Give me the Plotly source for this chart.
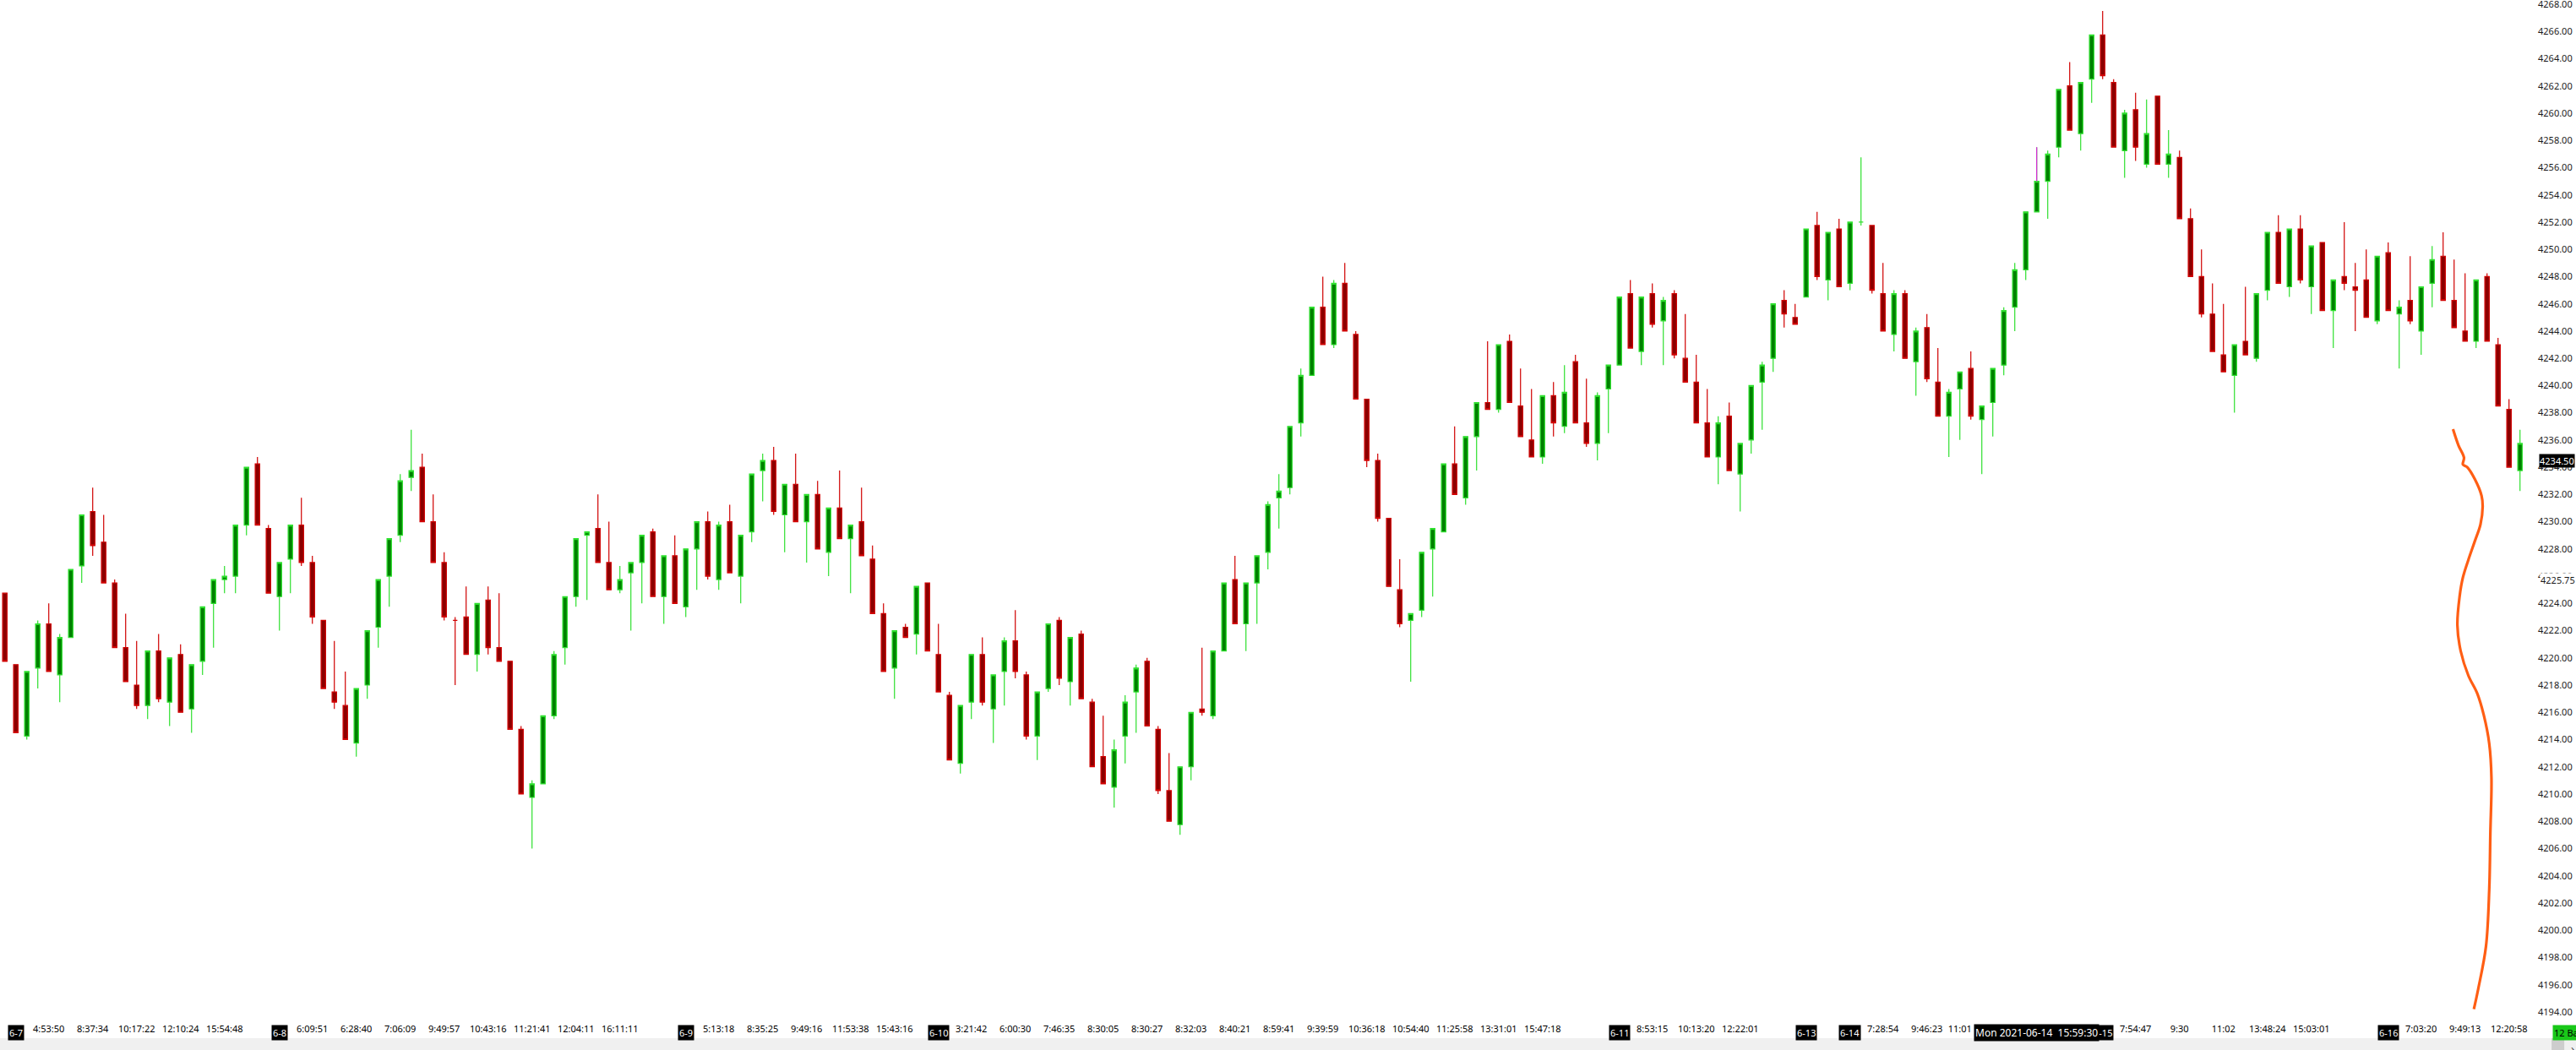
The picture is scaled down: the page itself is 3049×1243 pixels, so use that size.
import plotly.graph_objects as go

# bars (index = bar number on a tick-style axis)
opens = [4224.75, 4219.5, 4214.25, 4219.25, 4222.5, 4218.75, 4221.5, 4226.75, 4230.75, 4228.5,
         4225.5, 4220.75, 4218.0, 4216.5, 4220.5, 4216.75, 4220.25, 4216.25, 4219.75, 4224.0,
         4225.75, 4226.0, 4229.75, 4234.25, 4229.5, 4224.5, 4227.25, 4229.75, 4227.0, 4222.75,
         4217.5, 4216.5, 4213.75, 4218.0, 4222.25, 4226.0, 4229.0, 4233.25, 4234.0, 4230.0,
         4227.0, 4222.75, 4223.0, 4220.25, 4224.25, 4220.75, 4219.75, 4214.75, 4209.75, 4210.75,
         4215.75, 4220.75, 4224.5, 4229.0, 4229.5, 4227.0, 4225.0, 4226.25, 4227.0, 4229.25,
         4224.5, 4227.5, 4223.75, 4228.0, 4230.0, 4225.75, 4230.0, 4226.0, 4229.25, 4233.75,
         4234.5, 4230.5, 4232.75, 4230.0, 4232.0, 4227.75, 4231.0, 4228.75, 4230.0, 4227.25,
         4223.25, 4219.25, 4222.25, 4221.75, 4225.5, 4220.25, 4217.25, 4212.25, 4216.75, 4220.25,
         4216.25, 4219.0, 4221.25, 4218.75, 4214.25, 4217.75, 4222.75, 4218.25, 4221.75, 4216.75,
         4212.75, 4210.5, 4214.25, 4217.5, 4219.75, 4214.75, 4210.25, 4207.75, 4212.0, 4216.25,
         4215.75, 4220.5, 4225.75, 4222.5, 4225.5, 4227.75, 4231.75, 4232.5, 4237.25, 4240.75,
         4245.75, 4243.0, 4247.5, 4243.75, 4239.0, 4234.5, 4230.25, 4225.0, 4222.75, 4223.5,
         4228.0, 4229.25, 4234.25, 4231.75, 4236.25, 4238.75, 4238.25, 4243.25, 4238.5, 4236.0,
         4234.75, 4239.25, 4237.0, 4241.75, 4237.25, 4235.75, 4239.75, 4241.5, 4246.75, 4242.5,
         4246.75, 4244.75, 4246.75, 4242.0, 4240.25, 4237.25, 4234.75, 4237.75, 4233.5, 4236.0,
         4240.25, 4242.0, 4246.25, 4245.0, 4246.5, 4251.75, 4247.75, 4251.5, 4247.5, 4252.0,
         4251.75, 4246.75, 4243.75, 4246.75, 4241.75, 4244.25, 4240.25, 4237.75, 4239.75, 4241.25,
         4237.5, 4238.75, 4241.5, 4245.75, 4248.5, 4252.75, 4255.0, 4257.5, 4262.0, 4258.5,
         4262.5, 4265.75, 4262.25, 4257.25, 4260.25, 4256.25, 4261.25, 4256.25, 4256.75, 4252.25,
         4248.0, 4245.25, 4242.25, 4240.75, 4243.25, 4242.0, 4247.0, 4251.25, 4247.25, 4251.5,
         4247.25, 4250.5, 4245.5, 4248.0, 4247.25, 4247.75, 4244.75, 4249.75, 4245.25, 4246.25,
         4244.0, 4247.5, 4249.5, 4246.25, 4244.0, 4243.25, 4248.0, 4243.0, 4238.25, 4233.75]
highs = [4224.75, 4219.5, 4219.0, 4222.75, 4224.0, 4221.75, 4226.5, 4230.5, 4232.5, 4230.5,
         4225.75, 4223.25, 4221.25, 4220.5, 4221.75, 4220.0, 4221.0, 4219.5, 4223.75, 4225.75,
         4226.75, 4229.75, 4234.0, 4234.75, 4229.75, 4227.0, 4229.75, 4231.75, 4227.5, 4222.75,
         4221.25, 4219.0, 4217.75, 4222.0, 4225.75, 4228.75, 4233.5, 4236.75, 4235.0, 4232.0,
         4227.75, 4223.0, 4225.25, 4224.0, 4225.25, 4224.75, 4219.75, 4215.0, 4211.0, 4215.75,
         4220.5, 4224.5, 4228.75, 4229.25, 4232.0, 4230.0, 4226.75, 4227.0, 4229.0, 4229.5,
         4227.5, 4229.0, 4228.0, 4230.0, 4230.75, 4230.0, 4231.25, 4229.0, 4233.5, 4235.0,
         4235.5, 4232.75, 4235.0, 4232.0, 4233.0, 4231.0, 4233.75, 4229.75, 4232.5, 4228.25,
         4224.0, 4222.0, 4222.5, 4225.25, 4225.5, 4222.5, 4217.5, 4216.5, 4220.25, 4221.5,
         4218.75, 4221.5, 4223.5, 4219.0, 4217.5, 4222.5, 4223.0, 4221.5, 4222.0, 4217.0,
         4215.75, 4214.0, 4217.25, 4219.5, 4220.0, 4215.0, 4213.0, 4212.0, 4216.0, 4220.75,
         4220.5, 4225.5, 4227.5, 4225.5, 4227.5, 4231.5, 4233.5, 4237.0, 4241.25, 4245.75,
         4248.0, 4247.75, 4249.0, 4244.0, 4239.0, 4235.0, 4230.25, 4227.25, 4223.25, 4227.75,
         4229.5, 4234.25, 4237.0, 4236.25, 4238.75, 4243.25, 4243.0, 4243.75, 4241.25, 4239.75,
         4239.25, 4240.25, 4241.5, 4242.25, 4240.5, 4239.5, 4241.5, 4246.5, 4247.75, 4246.5,
         4247.5, 4246.5, 4247.0, 4245.25, 4242.25, 4239.75, 4237.75, 4238.75, 4235.75, 4240.0,
         4241.75, 4246.0, 4247.0, 4246.0, 4251.5, 4252.75, 4251.25, 4252.25, 4252.0, 4256.75,
         4251.75, 4249.0, 4247.0, 4247.0, 4244.25, 4245.25, 4242.75, 4239.75, 4241.0, 4242.5,
         4238.5, 4241.25, 4245.75, 4249.0, 4252.75, 4257.5, 4257.25, 4261.75, 4263.75, 4262.25,
         4265.75, 4267.5, 4262.5, 4260.25, 4261.5, 4261.0, 4261.25, 4258.75, 4257.25, 4253.0,
         4250.0, 4247.5, 4246.0, 4243.0, 4247.25, 4246.75, 4251.25, 4252.5, 4251.5, 4252.5,
         4250.25, 4250.5, 4247.75, 4252.0, 4249.0, 4250.0, 4249.5, 4250.5, 4246.25, 4249.5,
         4247.25, 4250.25, 4251.25, 4249.25, 4248.25, 4247.75, 4248.25, 4243.5, 4239.0, 4236.75]
lows = [4219.75, 4214.5, 4214.0, 4217.75, 4219.0, 4216.75, 4221.5, 4225.5, 4227.5, 4225.5,
        4220.75, 4218.25, 4216.25, 4215.5, 4216.75, 4215.0, 4216.0, 4214.5, 4218.75, 4220.75,
        4224.75, 4224.75, 4229.0, 4229.75, 4224.75, 4222.0, 4224.75, 4226.75, 4222.5, 4217.75,
        4216.25, 4214.0, 4212.75, 4217.0, 4220.75, 4223.75, 4228.5, 4232.25, 4230.0, 4227.0,
        4222.75, 4218.0, 4220.25, 4219.0, 4220.25, 4219.75, 4214.75, 4210.0, 4206.0, 4210.75,
        4215.5, 4219.5, 4223.75, 4224.25, 4227.0, 4225.0, 4224.75, 4222.0, 4224.0, 4224.5,
        4222.5, 4224.0, 4223.0, 4225.0, 4225.75, 4225.0, 4226.25, 4224.0, 4228.5, 4231.5,
        4230.5, 4227.75, 4230.0, 4227.0, 4228.0, 4226.0, 4228.75, 4224.75, 4227.5, 4223.25,
        4219.0, 4217.0, 4221.5, 4220.25, 4220.5, 4217.5, 4212.5, 4211.5, 4215.5, 4216.5,
        4213.75, 4216.5, 4218.5, 4214.0, 4212.5, 4217.5, 4218.0, 4216.5, 4217.0, 4212.0,
        4210.75, 4209.0, 4212.25, 4214.5, 4215.0, 4210.0, 4208.0, 4207.0, 4211.0, 4215.75,
        4215.5, 4220.5, 4222.5, 4220.5, 4222.5, 4226.5, 4229.5, 4232.0, 4236.25, 4240.75,
        4243.0, 4242.75, 4244.0, 4239.0, 4234.0, 4230.0, 4225.25, 4222.25, 4218.25, 4223.0,
        4224.5, 4229.25, 4232.0, 4231.25, 4233.75, 4238.25, 4238.0, 4238.75, 4236.25, 4234.75,
        4234.25, 4236.25, 4236.5, 4237.25, 4235.5, 4234.5, 4236.5, 4241.5, 4242.75, 4241.5,
        4244.25, 4241.5, 4242.0, 4240.25, 4237.25, 4234.75, 4232.75, 4233.75, 4230.75, 4235.0,
        4236.75, 4241.0, 4244.25, 4244.5, 4246.5, 4247.75, 4246.25, 4247.25, 4247.0, 4251.75,
        4246.75, 4244.0, 4242.5, 4242.0, 4239.25, 4240.25, 4237.75, 4234.75, 4236.0, 4237.5,
        4233.5, 4236.25, 4240.75, 4244.0, 4247.75, 4252.75, 4252.25, 4256.75, 4258.75, 4257.25,
        4260.75, 4262.5, 4257.5, 4255.25, 4256.5, 4256.0, 4256.25, 4255.25, 4252.25, 4248.0,
        4245.0, 4242.5, 4241.0, 4238.0, 4242.25, 4241.75, 4246.25, 4247.5, 4246.5, 4247.5,
        4245.25, 4245.5, 4242.75, 4247.0, 4244.0, 4245.0, 4244.5, 4245.5, 4241.25, 4244.5,
        4242.25, 4245.75, 4246.25, 4244.25, 4243.25, 4242.75, 4243.25, 4238.5, 4234.0, 4232.25]
closes = [4219.75, 4214.5, 4219.0, 4222.5, 4219.0, 4221.5, 4226.5, 4230.5, 4228.25, 4225.5,
          4220.75, 4218.25, 4216.5, 4220.5, 4217.0, 4220.0, 4216.0, 4219.5, 4223.75, 4225.75,
          4226.0, 4229.75, 4234.0, 4229.75, 4224.75, 4227.0, 4229.75, 4227.0, 4223.0, 4217.75,
          4216.75, 4214.0, 4217.75, 4222.0, 4225.75, 4228.75, 4233.0, 4233.75, 4230.0, 4227.0,
          4223.0, 4222.75, 4220.25, 4224.0, 4220.75, 4219.75, 4214.75, 4210.0, 4210.75, 4215.75,
          4220.25, 4224.5, 4228.75, 4229.25, 4227.0, 4225.0, 4225.75, 4227.0, 4229.0, 4224.5,
          4227.5, 4224.0, 4228.0, 4230.0, 4226.0, 4229.75, 4226.25, 4229.0, 4233.5, 4234.5,
          4230.75, 4232.75, 4230.0, 4232.0, 4228.0, 4231.0, 4228.75, 4229.75, 4227.5, 4223.25,
          4219.0, 4222.0, 4221.5, 4225.25, 4220.5, 4217.5, 4212.5, 4216.5, 4220.25, 4216.75,
          4218.75, 4221.25, 4219.0, 4214.25, 4217.5, 4222.5, 4218.5, 4221.5, 4217.0, 4212.0,
          4210.75, 4213.25, 4216.75, 4219.25, 4215.0, 4210.25, 4208.0, 4212.0, 4216.0, 4216.0,
          4220.5, 4225.5, 4222.5, 4225.5, 4227.5, 4231.25, 4232.25, 4237.0, 4240.75, 4245.75,
          4243.0, 4247.5, 4244.0, 4239.0, 4234.5, 4230.25, 4225.25, 4222.5, 4223.25, 4227.75,
          4229.5, 4234.25, 4232.0, 4236.25, 4238.75, 4238.25, 4243.0, 4238.75, 4236.25, 4234.75,
          4239.25, 4237.25, 4239.5, 4237.25, 4235.75, 4239.25, 4241.5, 4246.5, 4242.75, 4246.5,
          4244.5, 4246.25, 4242.25, 4240.25, 4237.25, 4234.75, 4237.25, 4233.75, 4235.75, 4240.0,
          4241.5, 4246.0, 4245.25, 4244.5, 4251.5, 4248.0, 4251.25, 4247.25, 4252.0, 4252.0,
          4247.0, 4244.0, 4246.75, 4242.0, 4244.0, 4240.5, 4237.75, 4239.5, 4241.0, 4237.75,
          4238.5, 4241.25, 4245.5, 4248.5, 4252.75, 4255.0, 4257.0, 4261.75, 4258.75, 4262.25,
          4265.75, 4262.75, 4257.5, 4260.0, 4257.5, 4258.5, 4256.25, 4257.0, 4252.25, 4248.0,
          4245.25, 4242.5, 4241.0, 4243.0, 4242.25, 4246.75, 4251.25, 4247.5, 4251.5, 4247.75,
          4250.25, 4245.5, 4247.75, 4247.5, 4247.0, 4245.0, 4249.5, 4245.5, 4245.75, 4244.75,
          4247.25, 4249.25, 4246.25, 4244.25, 4243.25, 4247.75, 4243.25, 4238.5, 4234.0, 4235.75]
bars = list(range(len(closes)))

# x-axis labels (bar index -> label)
time_bars = [4, 8, 12, 16, 20, 28, 32, 36, 40, 44, 48, 52, 56, 65, 69, 73, 77, 81,
             88, 92, 96, 100, 104, 108, 112, 116, 120, 124, 128, 132, 136, 140,
             150, 154, 158, 171, 175, 178, 194, 198, 202, 206, 210, 220, 224, 228]
time_labels = ["4:53:50", "8:37:34", "10:17:22", "12:10:24", "15:54:48", "6:09:51", "6:28:40",
               "7:06:09", "9:49:57", "10:43:16", "11:21:41", "12:04:11", "16:11:11", "5:13:18",
               "8:35:25", "9:49:16", "11:53:38", "15:43:16", "3:21:42", "6:00:30", "7:46:35",
               "8:30:05", "8:30:27", "8:32:03", "8:40:21", "8:59:41", "9:39:59", "10:36:18",
               "10:54:40", "11:25:58", "13:31:01", "15:47:18", "8:53:15", "10:13:20", "12:22:01",
               "7:28:54", "9:46:23", "11:01", "7:54:47", "9:30", "11:02", "13:48:24", "15:03:01",
               "7:03:20", "9:49:13", "12:20:58"]
date_bars = [1, 25, 62, 85, 147, 164, 168, 191, 217]
date_labels = ["6-7", "6-8", "6-9", "6-10", "6-11", "6-13", "6-14", "6-15", "6-16"]

price_ticks = [4194 + 2 * i for i in range(38)]

# crosshair and marker
cross_bar = 185
cross_price = 4234.50
cross_time = "Mon 2021-06-14  15:59:30"
marker_price = 4225.75

# hand-drawn orange stroke (bar index, price)
stroke_x = [222.9, 223.4, 223.9, 223.8, 224.2, 224.9, 225.5, 225.6, 225.4, 224.9, 224.3, 223.8,
            223.5, 223.3, 223.6, 224.3, 225.1, 225.7, 226.2, 226.4, 226.3, 226.2, 225.9, 225.2, 224.8]
stroke_y = [4236.8, 4235.6, 4234.7, 4234.2, 4234.0, 4233.1, 4231.9, 4231.1, 4229.8, 4228.6, 4227.2,
            4225.9, 4224.5, 4222.4, 4220.5, 4218.7, 4217.4, 4215.8, 4213.7, 4211.2, 4207.1, 4203.0,
            4198.8, 4195.7, 4194.2]

FONT = "Noto Sans, Segoe UI, Arial, sans-serif"

fig = go.Figure()
fig.add_trace(go.Candlestick(
    x=bars, open=opens, high=highs, low=lows, close=closes,
    increasing=dict(fillcolor="#008000", line=dict(color="#2fe02f", width=1.2)),
    decreasing=dict(fillcolor="#8b0000", line=dict(color="#d00000", width=1.2)),
    whiskerwidth=0, showlegend=False, hoverinfo="skip",
))
# highlighted wick of the bar under the crosshair
fig.add_trace(go.Scatter(
    x=[cross_bar, cross_bar], y=[closes[cross_bar], highs[cross_bar]],
    mode="lines", line=dict(color="#ff00ff", width=1), showlegend=False, hoverinfo="skip",
))
fig.add_trace(go.Scatter(
    x=stroke_x, y=stroke_y, mode="lines",
    line=dict(color="#ff5e14", width=3.2, shape="spline", smoothing=1.0),
    showlegend=False, hoverinfo="skip",
))

# crosshair
fig.add_hline(y=cross_price, line=dict(color="#000000", width=1))
fig.add_vline(x=cross_bar, line=dict(color="#000000", width=1))

annotations = []
for b, t in zip(date_bars, date_labels):
    annotations.append(dict(
        x=b, xref="x", y=0, yref="paper", yanchor="top", yshift=-3,
        text=t, showarrow=False, bgcolor="#000000", borderpad=1,
        font=dict(family=FONT, size=11, color="#ffffff"),
    ))
annotations.append(dict(
    x=cross_bar, xref="x", y=0, yref="paper", yanchor="top", yshift=-2,
    text=cross_time, showarrow=False, bgcolor="#000000", borderpad=1,
    font=dict(family=FONT, size=12, color="#ffffff"),
))
annotations.append(dict(
    x=1, xref="paper", xanchor="left", xshift=3, y=marker_price, yref="y",
    text="%.2f" % marker_price, showarrow=False, bgcolor="#ffffff", borderpad=0,
    font=dict(family=FONT, size=11, color="#1a1a1a"),
))
annotations.append(dict(
    x=1, xref="paper", xanchor="left", xshift=2, y=cross_price, yref="y",
    text="%.2f" % cross_price, showarrow=False, bgcolor="#000000", borderpad=0,
    font=dict(family=FONT, size=11, color="#ffffff"),
))
annotations.append(dict(
    x=1, xref="paper", xanchor="left", xshift=18, y=0, yref="paper", yanchor="top", yshift=-3,
    text="12 Bars", showarrow=False, bgcolor="#19c819", borderpad=1,
    font=dict(family=FONT, size=11, color="#000000"),
))
annotations.append(dict(
    x=1, xref="paper", xanchor="left", xshift=38, y=0, yref="paper", yanchor="top", yshift=-20,
    text="›", showarrow=False, font=dict(family=FONT, size=13, color="#444444"),
))

# scrollbar strip at the bottom
shapes = [
    dict(type="rect", xref="paper", yref="paper", x0=-0.01, x1=1.02, y0=-0.0157, y1=-0.03,
         fillcolor="#f0f0f0", line=dict(width=0), layer="above"),
    dict(type="rect", xref="paper", yref="paper", x0=1.0057, x1=1.0107, y0=-0.0157, y1=-0.03,
         fillcolor="#cdcdcd", line=dict(width=0), layer="above"),
]

fig.update_layout(
    width=3049, height=1243,
    margin=dict(l=0, r=46, t=0, b=33),
    paper_bgcolor="#ffffff", plot_bgcolor="#ffffff",
    font=dict(family=FONT, size=11, color="#000000"),
    boxgap=0.42,
    annotations=annotations,
    shapes=shapes,
    xaxis=dict(
        range=[-0.44, 230.56], showgrid=False, zeroline=False, showline=False,
        tickmode="array", tickvals=time_bars, ticktext=time_labels, ticks="",
        rangeslider=dict(visible=False), automargin=False, ticklabeloverflow="allow",
        tickfont=dict(family=FONT, size=11, color="#000000"),
    ),
    yaxis=dict(
        side="right", range=[4193.25, 4268.31], showgrid=False, zeroline=False, showline=False,
        tickmode="array", tickvals=price_ticks, ticktext=["%.2f" % p for p in price_ticks],
        ticks="", automargin=False, ticklabeloverflow="allow",
        tickfont=dict(family=FONT, size=11, color="#1a1a1a"),
    ),
)

fig.write_html("out.html", config={"displayModeBar": False},
               post_script="document.body.style.margin='0';document.body.style.overflow='hidden';")
